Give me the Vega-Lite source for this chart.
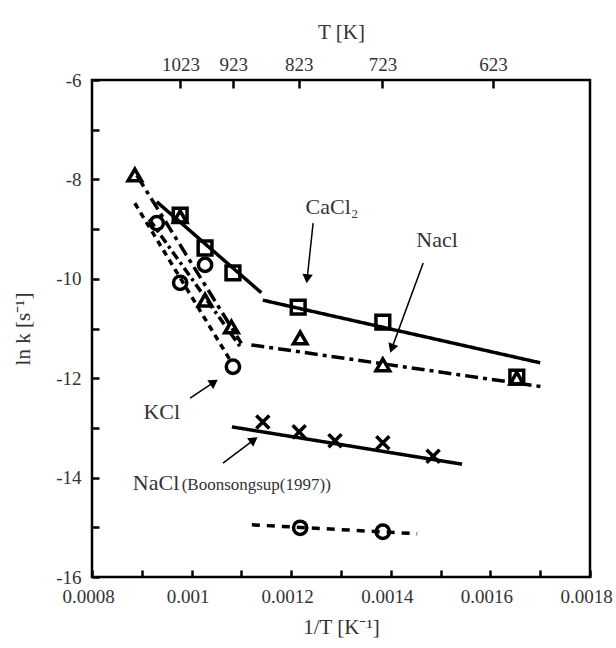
{
  "$schema": "https://vega.github.io/schema/vega-lite/v6.json",
  "width": 498,
  "height": 497,
  "autosize": "none",
  "padding": {"left": 92, "top": 80, "right": 26, "bottom": 71},
  "background": "white",
  "config": {
    "view": {"stroke": "black", "strokeWidth": 2.5},
    "font": "Liberation Serif",
    "axis": {"domain": false, "grid": false, "tickColor": "black", "tickWidth": 2.5, "labelFont": "Liberation Serif", "labelFontSize": 19, "labelColor": "#333", "titleFont": "Liberation Serif", "titleFontSize": 21, "titleFontWeight": "normal", "titleColor": "#333"}
  },
  "datasets": {
    "points": [
      {"series": "CaCl2", "x": 0.000977, "y": -8.72},
      {"series": "CaCl2", "x": 0.001027, "y": -9.38},
      {"series": "CaCl2", "x": 0.001083, "y": -9.88},
      {"series": "CaCl2", "x": 0.001214, "y": -10.57},
      {"series": "CaCl2", "x": 0.001384, "y": -10.87},
      {"series": "CaCl2", "x": 0.001653, "y": -11.98},
      {"series": "NaCl", "x": 0.000886, "y": -7.91},
      {"series": "NaCl", "x": 0.000977, "y": -8.75},
      {"series": "NaCl", "x": 0.001027, "y": -10.43},
      {"series": "NaCl", "x": 0.00108, "y": -10.97},
      {"series": "NaCl", "x": 0.001218, "y": -11.19},
      {"series": "NaCl", "x": 0.001384, "y": -11.73},
      {"series": "NaCl", "x": 0.001653, "y": -12.0},
      {"series": "KCl", "x": 0.00093, "y": -8.88},
      {"series": "KCl", "x": 0.001027, "y": -9.72},
      {"series": "KCl", "x": 0.000977, "y": -10.08},
      {"series": "KCl", "x": 0.001083, "y": -11.77},
      {"series": "KCl", "x": 0.001218, "y": -15.01},
      {"series": "KCl", "x": 0.001384, "y": -15.09},
      {"series": "Boon", "x": 0.001143, "y": -12.88},
      {"series": "Boon", "x": 0.001216, "y": -13.08},
      {"series": "Boon", "x": 0.001288, "y": -13.26},
      {"series": "Boon", "x": 0.001384, "y": -13.3},
      {"series": "Boon", "x": 0.001485, "y": -13.57}
    ],
    "lines": [
      {"seg": "caH", "x": 0.00093, "y": -8.45},
      {"seg": "caH", "x": 0.00114, "y": -10.28},
      {"seg": "caL", "x": 0.001143, "y": -10.43},
      {"seg": "caL", "x": 0.0017, "y": -11.69},
      {"seg": "naH", "x": 0.00089, "y": -7.92},
      {"seg": "naH", "x": 0.0011, "y": -11.3},
      {"seg": "naL", "x": 0.00112, "y": -11.33},
      {"seg": "naL", "x": 0.00171, "y": -12.18},
      {"seg": "kH", "x": 0.000886, "y": -8.48},
      {"seg": "kH", "x": 0.001077, "y": -11.63},
      {"seg": "kH2", "x": 0.000915, "y": -8.8},
      {"seg": "kH2", "x": 0.0011, "y": -11.4},
      {"seg": "boon", "x": 0.001081, "y": -12.98},
      {"seg": "boon", "x": 0.001543, "y": -13.73},
      {"seg": "kL", "x": 0.001121, "y": -14.95},
      {"seg": "kL", "x": 0.001453, "y": -15.13}
    ],
    "labels": [
      {"text": "CaCl₂", "x": 0.001282, "y": -8.56},
      {"text": "Nacl", "x": 0.001493, "y": -9.22},
      {"text": "KCl", "x": 0.00094, "y": -12.68}
    ],
    "arrows": [
      {"x": 0.001244, "y": -8.88, "x2": 0.001232, "y2": -10.0, "angle": 186},
      {"x": 0.001465, "y": -9.68, "x2": 0.001402, "y2": -11.4, "angle": 200},
      {"x": 0.000997, "y": -12.4, "x2": 0.001045, "y2": -12.08, "angle": 56},
      {"x": 0.001063, "y": -13.71, "x2": 0.001125, "y2": -13.24, "angle": 54}
    ]
  },
  "layer": [
    {
      "data": {"name": "lines"},
      "mark": {"type": "line", "color": "black"},
      "encoding": {
        "x": {"field": "x", "type": "quantitative", "scale": {"domain": [0.0008, 0.0018], "nice": false, "zero": false},
          "axis": {"orient": "bottom", "title": "1/T [K⁻¹]", "values": [0.0008, 0.0009, 0.001, 0.0011, 0.0012, 0.0013, 0.0014, 0.0015, 0.0016, 0.0017, 0.0018], "labelExpr": "abs(round(datum.value*10000)) % 2 == 0 ? format(datum.value, '.4~f') : ''", "tickSize": -7, "labelPadding": 17, "labelOffset": -4, "titlePadding": 10, "labelFlush": false, "labelOverlap": false}},
        "y": {"field": "y", "type": "quantitative", "scale": {"domain": [-16, -6], "nice": false, "zero": false},
          "axis": {"title": "ln k [s⁻¹]", "values": [-16, -15.5, -15, -14.5, -14, -13.5, -13, -12.5, -12, -11.5, -11, -10.5, -10, -9.5, -9, -8.5, -8, -7.5, -7, -6.5, -6], "labelExpr": "abs(datum.value) % 2 == 0 ? ('' + datum.value) : ''", "tickSize": -7, "labelPadding": 18, "titlePadding": 22, "labelFlush": false, "labelOverlap": false}},
        "detail": {"field": "seg"},
        "strokeDash": {"field": "seg", "type": "nominal", "legend": null,
          "scale": {"domain": ["caH", "caL", "naH", "naL", "kH", "kH2", "boon", "kL"], "range": [[1, 0], [1, 0], [13, 5, 4, 5], [13, 5, 4, 5], [6, 5], [9, 4, 3, 4], [1, 0], [8, 7]]}},
        "strokeWidth": {"field": "seg", "type": "nominal", "legend": null,
          "scale": {"domain": ["caH", "caL", "naH", "naL", "kH", "kH2", "boon", "kL"], "range": [3.5, 3.5, 2, 2, 2.5, 2, 1, 2.2]}}
      }
    },
    {
      "data": {"name": "points"},
      "mark": {"type": "point", "filled": false, "color": "black", "opacity": 1},
      "encoding": {
        "x": {"field": "x", "type": "quantitative", "scale": {"domain": [0.0008, 0.0018], "nice": false, "zero": false},
          "axis": {"orient": "top", "title": "T [K]", "values": [0.000977517, 0.001083424, 0.001215067, 0.001383126, 0.001605136], "labelExpr": "format(1/datum.value, '.0f')", "tickSize": -8, "labelPadding": 14, "titlePadding": 13, "labelFlush": false, "labelOverlap": false}},
        "y": {"field": "y", "type": "quantitative"},
        "shape": {"field": "series", "type": "nominal", "legend": null,
          "scale": {"domain": ["CaCl2", "NaCl", "KCl", "Boon"], "range": ["square", "triangle-up", "circle", "M-1,-1L1,1M-1,1L1,-1"]}},
        "size": {"field": "series", "type": "nominal", "legend": null,
          "scale": {"domain": ["CaCl2", "NaCl", "KCl", "Boon"], "range": [190, 170, 170, 110]}},
        "strokeWidth": {"field": "series", "type": "nominal", "legend": null,
          "scale": {"domain": ["CaCl2", "NaCl", "KCl", "Boon"], "range": [2, 2, 2, 1]}}
      }
    },
    {
      "data": {"name": "arrows"},
      "mark": {"type": "rule", "color": "black", "strokeWidth": 1.5},
      "encoding": {
        "x": {"field": "x", "type": "quantitative", "axis": null},
        "y": {"field": "y", "type": "quantitative"},
        "x2": {"field": "x2"},
        "y2": {"field": "y2"}
      }
    },
    {
      "data": {"name": "arrows"},
      "mark": {"type": "point", "shape": "triangle-up", "filled": true, "color": "black", "opacity": 1, "size": 110},
      "encoding": {
        "x": {"field": "x2", "type": "quantitative", "axis": null},
        "y": {"field": "y2", "type": "quantitative"},
        "angle": {"field": "angle", "type": "quantitative", "scale": {"domain": [0, 360], "range": [0, 360]}}
      }
    },
    {
      "data": {"name": "labels"},
      "mark": {"type": "text", "font": "Liberation Serif", "fontSize": 22, "color": "#333", "baseline": "middle", "align": "center"},
      "encoding": {
        "x": {"field": "x", "type": "quantitative", "axis": null},
        "y": {"field": "y", "type": "quantitative"},
        "text": {"field": "text"}
      }
    },
    {
      "data": {"values": [{"text": "NaCl", "x": 0.000882, "y": -14.25}]},
      "mark": {"type": "text", "font": "Liberation Serif", "fontSize": 22, "color": "#333", "baseline": "alphabetic", "align": "left"},
      "encoding": {
        "x": {"field": "x", "type": "quantitative", "axis": null},
        "y": {"field": "y", "type": "quantitative"},
        "text": {"field": "text"}
      }
    },
    {
      "data": {"values": [{"text": "(Boonsongsup(1997))", "x": 0.00098, "y": -14.25}]},
      "mark": {"type": "text", "font": "Liberation Serif", "fontSize": 17, "color": "#333", "baseline": "alphabetic", "align": "left"},
      "encoding": {
        "x": {"field": "x", "type": "quantitative", "axis": null},
        "y": {"field": "y", "type": "quantitative"},
        "text": {"field": "text"}
      }
    }
  ],
  "resolve": {"axis": {"x": "independent"}}
}
